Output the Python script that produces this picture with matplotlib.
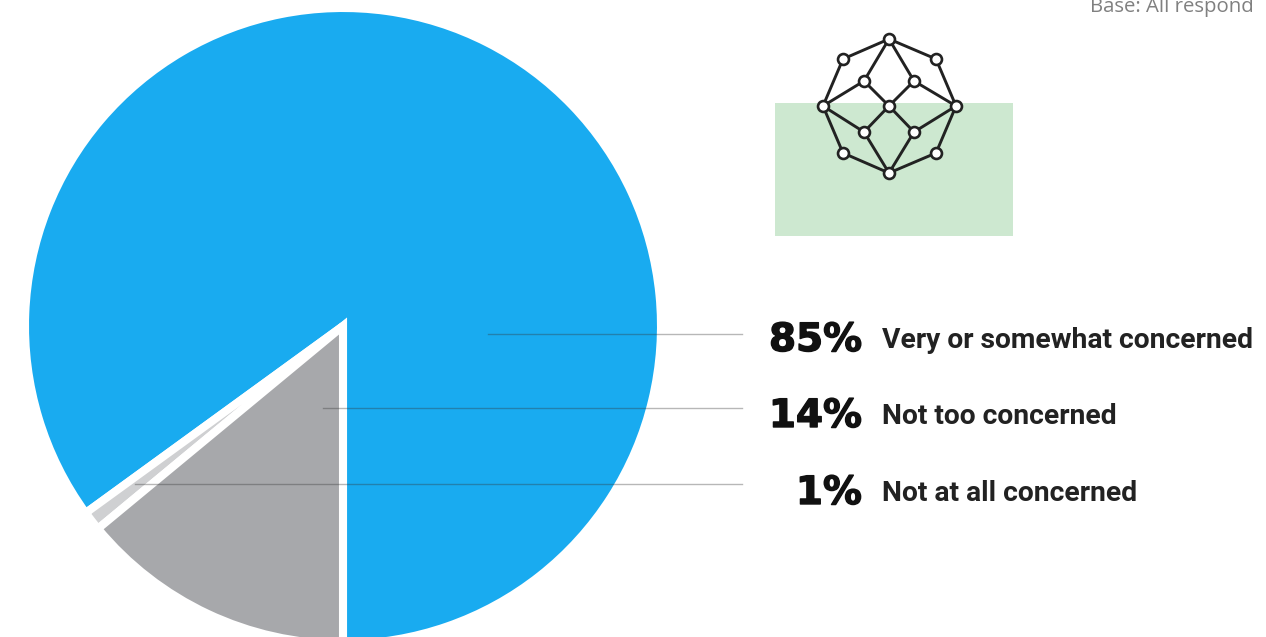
import matplotlib
matplotlib.use("Agg")
import matplotlib.pyplot as plt
import matplotlib.patheffects as pe
from matplotlib.patches import Rectangle

# Data
categories = ["Very or somewhat concerned", "Not too concerned", "Not at all concerned"]
values = [85, 14, 1]
value_labels = ["85%", "14%", "1%"]
colors = ["#19abf0", "#a7a8ab", "#cfd0d2"]
pie_order = [0, 2, 1]   # drawn blue, then the thin 1% slice, then the 14% slice
note = "Base: All respond"

# Pixel-space layout
W, H = 1266, 637
center = (343, 326)
radius = 318
pct_baseline = [351, 427, 504]
label_baseline = [348, 424, 501]
leader_y = [334, 408, 484]
leader_x0 = [488, 323, 135]
leader_x1 = 742

# Decorative network icon
icon_nodes = {
    "top": (889, 39), "ul": (843, 59), "ur": (936, 59), "l": (823, 106), "r": (956, 106),
    "c": (889, 106), "iul": (864, 81), "iur": (914, 81), "ill": (864, 132), "ilr": (914, 132),
    "ll": (843, 153), "lr": (936, 153), "bot": (889, 173),
}
icon_edges = [
    ("top", "ul"), ("top", "ur"), ("ul", "l"), ("ur", "r"), ("l", "ll"), ("r", "lr"),
    ("ll", "bot"), ("lr", "bot"), ("top", "iul"), ("top", "iur"), ("iul", "l"), ("iur", "r"),
    ("iul", "c"), ("iur", "c"), ("c", "ill"), ("c", "ilr"), ("ill", "l"), ("ilr", "r"),
    ("ill", "bot"), ("ilr", "bot"),
]

fig = plt.figure(figsize=(W / 100, H / 100), dpi=100, facecolor="white")
ax = fig.add_axes([0, 0, 1, 1])

# The y axis runs downward, so decreasing data angles read counter-clockwise on screen.
ax.pie([values[i] for i in pie_order], colors=[colors[i] for i in pie_order],
       startangle=90, counterclock=False, center=center, radius=radius, frame=True,
       wedgeprops=dict(edgecolor="white", linewidth=5.8))
ax.set_xlim(0, W)
ax.set_ylim(H, 0)
ax.set_aspect("equal")
ax.axis("off")

for y, x0 in zip(leader_y, leader_x0):
    ax.plot([x0, leader_x1], [y, y], color="#333333", alpha=0.35, lw=1.0, zorder=3)

ax.add_patch(Rectangle((775, 103), 238, 133, facecolor="#cde8d0", edgecolor="none", zorder=2))
for a, b in icon_edges:
    (xa, ya), (xb, yb) = icon_nodes[a], icon_nodes[b]
    ax.plot([xa, xb], [ya, yb], color="#222222", lw=2.1, zorder=4, solid_capstyle="round")
ax.scatter([p[0] for p in icon_nodes.values()], [p[1] for p in icon_nodes.values()],
           s=62, facecolor="white", edgecolor="#222222", linewidth=1.9, zorder=5)

for yp, yl, pct, cat in zip(pct_baseline, label_baseline, value_labels, categories):
    ax.text(862, yp, pct, ha="right", va="baseline", fontsize=28, color="#111111",
            family=["DejaVu Sans"], weight="bold", zorder=6,
            path_effects=[pe.withStroke(linewidth=1.0, foreground="#111111")])
    ax.text(882, yl, cat, ha="left", va="baseline", fontsize=20.3, color="#222222",
            family=["Roboto", "DejaVu Sans"], weight="bold", zorder=6)

ax.text(1090, 12, note, ha="left", va="baseline", fontsize=14.7, color="#808080",
        family=["Open Sans", "DejaVu Sans"], zorder=6)

fig.savefig("out.png", dpi=100)
